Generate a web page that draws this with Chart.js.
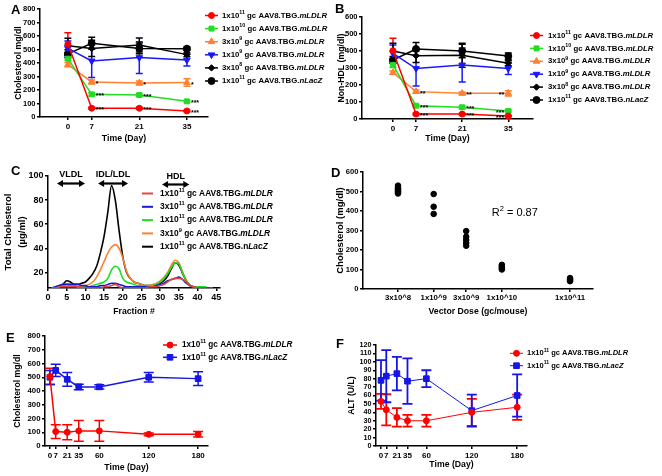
<!DOCTYPE html>
<html><head><meta charset="utf-8">
<script src="https://cdn.jsdelivr.net/npm/chart.js@4.4.1/dist/chart.umd.min.js"></script>
<style>
html,body{margin:0;padding:0;background:#fff;}
#wrap{position:relative;width:662px;height:476px;overflow:hidden;background:#fff;}
#wrap canvas{position:absolute;left:0;top:0;}
</style></head><body><div id="wrap">
<canvas id="cA" width="662" height="476"></canvas>
<canvas id="cB" width="662" height="476"></canvas>
<canvas id="cC" width="662" height="476"></canvas>
<canvas id="cD" width="662" height="476"></canvas>
<canvas id="cE" width="662" height="476"></canvas>
<canvas id="cF" width="662" height="476"></canvas>
</div>
<script>
// ---------------- DATA ----------------
const daysAB = [0, 7, 21, 35];
const tickDaysAB = [0, 7, 21, 35];
const tickCholA = [0, 100, 200, 300, 400, 500, 600, 700, 800];
const tickNonHdlB = [0, 100, 200, 300, 400, 500, 600];
const labelsAB = [
  '1x10^11^ gc AAV8.TBG.*mLDLR*',
  '1x10^10^ gc AAV8.TBG.*mLDLR*',
  '3x10^9^ gc AAV8.TBG.*mLDLR*',
  '1x10^9^ gc AAV8.TBG.*mLDLR*',
  '3x10^8^ gc AAV8.TBG.*mLDLR*',
  '1x10^11^ gc AAV8.TBG.*nLacZ*'
];
// Panel A: total cholesterol (mg/dl)
const cholA_1e11 = [540, 65, 65, 45];   const semA_1e11 = [85, 8, 8, 6];
const cholA_1e10 = [432, 168, 163, 116]; const semA_1e10 = [12, 12, 10, 8];
const cholA_3e9  = [388, 260, 252, 255]; const semA_3e9  = [15, 15, 15, 28];
const cholA_1e9  = [508, 415, 440, 422]; const semA_1e9  = [55, 122, 118, 45];
const cholA_3e8  = [528, 508, 533, 462]; const semA_3e8  = [55, 60, 52, 15];
const cholA_lacz = [468, 546, 508, 506]; const semA_lacz = [30, 45, 40, 12];
const starsA_1e11 = ['', '***', '***', '***'];
const starsA_1e10 = ['', '***', '***', '***'];
const starsA_3e9  = ['', '*', '*', '*'];
// Panel B: non-HDL cholesterol (mg/dl)
const nhdlB_1e11 = [402, 29, 29, 18];    const semB_1e11 = [73, 5, 5, 4];
const nhdlB_1e10 = [318, 78, 69, 47];    const semB_1e10 = [15, 8, 8, 6];
const nhdlB_3e9  = [273, 161, 151, 151]; const semB_3e9  = [10, 10, 8, 15];
const nhdlB_1e9  = [386, 297, 318, 297]; const semB_1e9  = [50, 103, 100, 35];
const nhdlB_3e8  = [400, 372, 375, 328]; const semB_3e8  = [45, 40, 70, 15];
const nhdlB_lacz = [347, 412, 400, 370]; const semB_lacz = [20, 38, 40, 18];
const starsB_1e11 = ['', '***', '***', '***'];
const starsB_1e10 = ['', '***', '***', '***'];
const starsB_3e9  = ['', '**', '**', '**'];
// Panel C: FPLC profile (µg/ml) by fraction
const fractionsC = [1,2,3,4,5,6,7,8,9,10,11,12,13,14,15,16,17,18,19,20,21,22,23,24,25,26,27,28,29,30,31,32,33,34,35,36,37,38,39,40,41,42,43,44];
const tickFractionC = [0, 5, 10, 15, 20, 25, 30, 35, 40, 45];
const tickTotalC = [20, 40, 60, 80, 100];
const labelsC = [
  '1x10^11^ gc AAV8.TBG.*mLDLR*',
  '3x10^11^ gc AAV8.TBG.*mLDLR*',
  '1x10^11^ gc AAV8.TBG.*mLDLR*',
  '3x10^9^ gc AAV8.TBG.*mLDLR*',
  '1x10^11^ gc AAV8.TBG.n*LacZ*'
];
const profC_red    = [7,7,8,8,8,8,8,8,8,7,7,7,7,7,8,8,9,10,8,7,7,7,7,7,7,7,8,8,8,9,10,12,14,15,15,14,12,9,8,7,7,7,6,6];
const profC_blue   = [7,8,9,10,10,10,10,10,9,9,8,8,8,9,9,10,11,11,10,9,8,8,8,8,8,8,8,8,9,10,11,13,14,15,16,14,11,9,8,7,7,7,7,6];
const profC_green  = [7,8,9,9,10,10,9,8,8,8,8,9,10,11,12,15,22,25,23,15,12,11,10,9,9,9,9,9,10,12,15,19,24,28,27,20,13,9,8,8,8,8,7,7];
const profC_orange = [7,7,8,9,10,9,9,8,8,9,10,12,16,22,29,36,41,43,40,32,21,15,12,11,10,9,9,10,11,13,16,20,26,30,28,20,13,9,8,7,7,7,6,6];
const profC_black  = [6,7,8,10,13,12,10,10,11,12,15,19,25,36,50,70,92,80,55,33,20,15,12,11,10,9,9,9,10,11,13,17,23,28,26,19,13,9,8,7,7,7,6,6];
const lipoNames = ['VLDL', 'IDL/LDL', 'HDL'];
const lipoFrom  = [2.4, 13.4, 30.5];
const lipoTo    = [9.9, 21.4, 37.8];
// Panel D: dose response (mg/dl)
const doseD = [3e8,3e8,3e8,3e8,3e8,3e8,3e8,3e8, 1e9,1e9,1e9, 3e9,3e9,3e9,3e9,3e9, 1e10,1e10,1e10,1e10,1e10, 1e11,1e11,1e11,1e11];
const cholD = [490,495,500,505,510,515,522,530, 487,422,385, 297,268,251,236,222, 100,106,112,118,124, 40,45,50,56];
const tickDoseD = [3e8, 1e9, 3e9, 1e10, 1e11];
const tickDoseLabelsD = ['3x10^8', '1x10^9', '3x10^9', '1x10^10', '1x10^11'];
const tickCholD = [0, 100, 200, 300, 400, 500, 600];
const r2TextD = 'R^2^ = 0.87';
// Panels E & F: long term
const daysEF = [0, 7, 21, 35, 60, 120, 180];
const tickDaysEF = [0, 7, 21, 35, 60, 120, 180];
const labelsEF = ['1x10^11^ gc AAV8.TBG.*mLDLR*', '1x10^11^ gc AAV8.TBG.*nLacZ*'];
const cholE_mldlr = [505, 105, 100, 110, 110, 85, 85];   const semE_mldlr = [60, 50, 55, 75, 75, 10, 20];
const cholE_lacz  = [500, 550, 485, 430, 430, 500, 490]; const semE_lacz  = [50, 45, 50, 20, 15, 35, 50];
const tickCholE = [0, 100, 200, 300, 400, 500, 600, 700, 800];
const altF_mldlr = [53, 43, 34, 30, 30, 40, 46];  const semF_mldlr = [9, 18.5, 11, 7, 7, 16, 15];
const altF_lacz  = [78, 83, 86, 77, 80, 42, 60];  const semF_lacz  = [24, 31, 20, 27, 10, 19, 25];
const tickAltF = [0, 10, 20, 30, 40, 50, 60, 70, 80, 90, 100, 110, 120];

// ---------------- STYLE / HELPERS ----------------
const FONT = "'Liberation Sans', Arial, Helvetica, sans-serif";
const RED = '#ff0000', GREEN = '#22dd22', ORANGE = '#ff8030', BLUE = '#1818ff', BLACK = '#000000';

function pts(xs, ys) { return xs.map((x, i) => ({x: x, y: ys[i]})); }

function drawRich(ctx, str, x, y, size, weight, family, color) {
  const parts = str.split(/(\^[^^]*\^|\*[^*]*\*)/).filter(p => p.length);
  let cx = x;
  ctx.fillStyle = color; ctx.textBaseline = 'middle'; ctx.textAlign = 'left';
  for (const p of parts) {
    let t = p, sz = size, dy = 0, st = '';
    if (p[0] === '^') { t = p.slice(1, -1); sz = size * 0.68; dy = -size * 0.38; }
    else if (p[0] === '*') { t = p.slice(1, -1); st = 'italic '; }
    ctx.font = st + weight + ' ' + sz + 'px ' + family;
    ctx.fillText(t, cx, y + dy);
    cx += ctx.measureText(t).width;
  }
}

function marker(ctx, style, radius, rotation, x, y, color) {
  ctx.save();
  ctx.fillStyle = color; ctx.strokeStyle = color; ctx.lineWidth = 1;
  if (Chart.helpers && Chart.helpers.drawPoint) {
    Chart.helpers.drawPoint(ctx, {pointStyle: style, radius: radius, rotation: rotation || 0, borderWidth: 1}, x, y);
  } else {
    ctx.beginPath(); ctx.arc(x, y, radius, 0, Math.PI * 2); ctx.fill();
  }
  ctx.restore();
}

function makeDataset(xs, ys, st, extra) {
  return Object.assign({
    data: pts(xs, ys),
    borderColor: st.c, backgroundColor: st.c,
    pointBackgroundColor: st.c, pointBorderColor: st.c,
    pointStyle: st.ps || false, pointRadius: st.r || 0, pointRotation: st.rot || 0,
    pointBorderWidth: 1, borderWidth: st.lw || 1.5, tension: 0, fill: false
  }, extra || {});
}

function buildChart(id, s) {
  const tickFont = (sz) => ({family: FONT, size: sz, weight: 'bold'});
  const plugin = {
    id: 'extras' + id,
    beforeDatasetsDraw(chart) {
      const ctx = chart.ctx, ys = chart.scales.y;
      chart.data.datasets.forEach((ds, di) => {
        if (!ds.errs) return;
        const meta = chart.getDatasetMeta(di);
        ctx.save();
        ctx.strokeStyle = ds.borderColor; ctx.lineWidth = s.errLw || 1.5;
        ds.errs.forEach((e, k) => {
          if (!e) return;
          const v = ds.data[k].y, px = meta.data[k].x;
          const yt = ys.getPixelForValue(v + e), yb = ys.getPixelForValue(Math.max(v - e, ys.min));
          ctx.beginPath();
          ctx.moveTo(px, yt); ctx.lineTo(px, yb);
          ctx.moveTo(px - s.cap, yt); ctx.lineTo(px + s.cap, yt);
          if (v - e > ys.min) { ctx.moveTo(px - s.cap, yb); ctx.lineTo(px + s.cap, yb); }
          ctx.stroke();
        });
        ctx.restore();
      });
    },
    afterDatasetsDraw(chart) {
      const ctx = chart.ctx;
      chart.data.datasets.forEach((ds, di) => {
        if (!ds.stars) return;
        const meta = chart.getDatasetMeta(di);
        ctx.save();
        ctx.fillStyle = '#000'; ctx.font = 'bold 7px ' + FONT; ctx.textBaseline = 'alphabetic';
        ds.stars.forEach((t, k) => {
          if (!t) return;
          const el = meta.data[k];
          const left = (s.starLeftX !== undefined && ds.data[k].x === s.starLeftX);
          ctx.textAlign = left ? 'right' : 'left';
          ctx.fillText(t, left ? el.x - 4 : el.x + 4, el.y + 4);
        });
        ctx.restore();
      });
    },
    afterDraw(chart) {
      const ctx = chart.ctx;
      ctx.save();
      ctx.fillStyle = '#000'; ctx.font = 'bold 13px ' + FONT; ctx.textBaseline = 'top'; ctx.textAlign = 'left';
      ctx.fillText(s.letter.t, s.letter.x, s.letter.y);
      if (s.legend) {
        const L = s.legend;
        L.items.forEach((it, i) => {
          const y = L.y0 + i * L.dy;
          ctx.strokeStyle = it.c; ctx.lineWidth = L.lw || 1.5;
          ctx.beginPath(); ctx.moveTo(L.x1, y); ctx.lineTo(L.x2, y); ctx.stroke();
          if (it.ps) marker(ctx, it.ps, it.r, it.rot, (L.x1 + L.x2) / 2, y, it.c);
          drawRich(ctx, it.label, L.tx, y, L.size, 'bold', FONT, '#000');
        });
      }
      if (s.arrows) {
        const xs = chart.scales.x, top = chart.chartArea.top;
        s.arrows.names.forEach((n, i) => {
          const x1 = xs.getPixelForValue(s.arrows.from[i]), x2 = xs.getPixelForValue(s.arrows.to[i]);
          const ya = top + s.arrows.dy[i];
          ctx.strokeStyle = '#000'; ctx.fillStyle = '#000'; ctx.lineWidth = 2.2;
          ctx.beginPath(); ctx.moveTo(x1 + 4, ya); ctx.lineTo(x2 - 4, ya); ctx.stroke();
          ctx.beginPath(); ctx.moveTo(x1, ya); ctx.lineTo(x1 + 6, ya - 3.6); ctx.lineTo(x1 + 6, ya + 3.6); ctx.closePath(); ctx.fill();
          ctx.beginPath(); ctx.moveTo(x2, ya); ctx.lineTo(x2 - 6, ya - 3.6); ctx.lineTo(x2 - 6, ya + 3.6); ctx.closePath(); ctx.fill();
          ctx.font = 'bold 9px ' + FONT; ctx.textAlign = 'center'; ctx.textBaseline = 'middle';
          ctx.fillText(n, (x1 + x2) / 2, top + s.arrows.ty[i]);
        });
      }
      if (s.note) {
        const ca = chart.chartArea;
        drawRich(ctx, s.note.text, ca.left + s.note.fx * (ca.right - ca.left), ca.top + s.note.fy * (ca.bottom - ca.top), s.note.size, 'normal', FONT, '#000');
      }
      ctx.restore();
    }
  };
  const axisCommon = {
    grid: {drawOnChartArea: false, drawTicks: true, tickLength: 3, color: '#000', lineWidth: 1.5},
    border: {display: true, color: '#000', width: 1.5}
  };
  const cfg = {
    type: 'line',
    data: {datasets: s.datasets},
    options: {
      responsive: false, animation: false, devicePixelRatio: 1,
      layout: {padding: {left: s.L - s.Wy, top: s.T, right: 662 - s.R, bottom: 476 - s.B - s.Hx}},
      plugins: {legend: {display: false}, tooltip: {enabled: false}},
      scales: {
        x: Object.assign({}, axisCommon, {
          type: s.x.type || 'linear', min: s.x.min, max: s.x.max,
          afterBuildTicks: sc => { sc.ticks = s.x.ticks.map(v => ({value: v})); },
          afterFit: sc => { sc.height = s.Hx; },
          ticks: {font: tickFont(s.x.fs), color: '#000', padding: 1.5, autoSkip: false, maxRotation: 0,
                  callback: (v, i) => s.x.labels ? s.x.labels[i] : String(v)},
          title: {display: true, text: s.x.title, color: '#000', font: {family: FONT, size: s.x.tfs || 8.7, weight: 'bold'}, padding: 0}
        }),
        y: Object.assign({}, axisCommon, {
          type: 'linear', min: s.y.min, max: s.y.max,
          afterBuildTicks: sc => { sc.ticks = s.y.ticks.map(v => ({value: v})); },
          afterFit: sc => { sc.width = s.Wy; },
          ticks: {font: tickFont(s.y.fs), color: '#000', padding: 1.5, autoSkip: false, callback: v => String(v)},
          title: {display: true, text: s.y.title, color: '#000', font: {family: FONT, size: s.y.tfs || 8.7, weight: 'bold', lineHeight: s.y.tlh || 1.2}, padding: 0}
        })
      }
    },
    plugins: [plugin]
  };
  return new Chart(document.getElementById(id), cfg);
}

// ---------------- PANEL A ----------------
const stAB = [
  {c: RED, ps: 'circle', r: 3},
  {c: GREEN, ps: 'rect', r: 3.5},
  {c: ORANGE, ps: 'triangle', r: 3.8},
  {c: BLUE, ps: 'triangle', r: 3.8, rot: 180},
  {c: BLACK, ps: 'rectRot', r: 3.2},
  {c: BLACK, ps: 'circle', r: 3.5}
];
buildChart('cA', {
  L: 40, T: 9, R: 208, B: 117, Wy: 26.4, Hx: 26.4, cap: 3.5,
  x: {min: -8.2, max: 41.2, ticks: tickDaysAB, fs: 8, title: 'Time (Day)'},
  y: {min: 0, max: 800, ticks: tickCholA, fs: 7.5, title: 'Cholesterol mg/dl'},
  letter: {t: 'A', x: 11, y: 4},
  legend: {x1: 205, x2: 218, tx: 222, y0: 15.5, dy: 13.1, size: 7.8,
           items: labelsAB.map((l, i) => Object.assign({label: l}, stAB[i]))},
  datasets: [
    makeDataset(daysAB, cholA_1e11, stAB[0], {errs: semA_1e11, stars: starsA_1e11}),
    makeDataset(daysAB, cholA_1e10, stAB[1], {errs: semA_1e10, stars: starsA_1e10}),
    makeDataset(daysAB, cholA_3e9, stAB[2], {errs: semA_3e9, stars: starsA_3e9}),
    makeDataset(daysAB, cholA_1e9, stAB[3], {errs: semA_1e9}),
    makeDataset(daysAB, cholA_3e8, stAB[4], {errs: semA_3e8}),
    makeDataset(daysAB, cholA_lacz, stAB[5], {errs: semA_lacz})
  ]
});

// ---------------- PANEL B ----------------
buildChart('cB', {
  L: 362, T: 17, R: 533, B: 119, Wy: 26, Hx: 24.4, cap: 3.5, starLeftX: 35,
  x: {min: -9.4, max: 42.5, ticks: tickDaysAB, fs: 8, title: 'Time (Day)'},
  y: {min: 0, max: 600, ticks: tickNonHdlB, fs: 7.5, title: 'Non-HDL (mg/dl)'},
  letter: {t: 'B', x: 335, y: 3},
  legend: {x1: 530, x2: 543, tx: 548, y0: 35.5, dy: 12.9, size: 7.8,
           items: labelsAB.map((l, i) => Object.assign({label: l}, stAB[i]))},
  datasets: [
    makeDataset(daysAB, nhdlB_1e11, stAB[0], {errs: semB_1e11, stars: starsB_1e11}),
    makeDataset(daysAB, nhdlB_1e10, stAB[1], {errs: semB_1e10, stars: starsB_1e10}),
    makeDataset(daysAB, nhdlB_3e9, stAB[2], {errs: semB_3e9, stars: starsB_3e9}),
    makeDataset(daysAB, nhdlB_1e9, stAB[3], {errs: semB_1e9}),
    makeDataset(daysAB, nhdlB_3e8, stAB[4], {errs: semB_3e8}),
    makeDataset(daysAB, nhdlB_lacz, stAB[5], {errs: semB_lacz})
  ]
});

// ---------------- PANEL C ----------------
const stC = [
  {c: '#e04848', lw: 1.6}, {c: '#1a1ad0', lw: 1.6}, {c: GREEN, lw: 1.6}, {c: ORANGE, lw: 1.6}, {c: BLACK, lw: 1.6}
];
const smooth = {cubicInterpolationMode: 'monotone', pointRadius: 0};
buildChart('cC', {
  L: 48, T: 176, R: 220, B: 288, Wy: 47, Hx: 28.4, cap: 0,
  x: {min: 0, max: 46, ticks: tickFractionC, fs: 9, title: 'Fraction #'},
  y: {min: 7, max: 100, ticks: tickTotalC, fs: 9, title: ['Total Cholesterol', '(\u00b5g/ml)'], tfs: 9.5, tlh: 1.5},
  letter: {t: 'C', x: 11, y: 165},
  legend: {x1: 142, x2: 153, tx: 160, y0: 193.5, dy: 13.3, size: 8.4, lw: 2,
           items: labelsC.map((l, i) => ({label: l, c: stC[i].c}))},
  arrows: {names: lipoNames, from: lipoFrom, to: lipoTo, dy: [7.5, 7.5, 8.5], ty: [-1, -1, 1]},
  datasets: [
    makeDataset(fractionsC, profC_red, stC[0], smooth),
    makeDataset(fractionsC, profC_blue, stC[1], smooth),
    makeDataset(fractionsC, profC_green, stC[2], smooth),
    makeDataset(fractionsC, profC_orange, stC[3], smooth),
    makeDataset(fractionsC, profC_black, stC[4], smooth)
  ]
});

// ---------------- PANEL D ----------------
buildChart('cD', {
  L: 363, T: 172, R: 593, B: 289, Wy: 28, Hx: 27.4, cap: 0,
  x: {type: 'logarithmic', min: 9.2e7, max: 2.17e11, ticks: tickDoseD, labels: tickDoseLabelsD, fs: 7.8, title: 'Vector Dose (gc/mouse)'},
  y: {min: 0, max: 600, ticks: tickCholD, fs: 7.6, title: 'Cholesterol (mg/dl)', tfs: 9.5},
  letter: {t: 'D', x: 331, y: 167},
  note: {text: r2TextD, fx: 0.56, fy: 0.35, size: 11},
  datasets: [
    makeDataset(doseD, cholD, {c: BLACK, ps: 'circle', r: 2.8}, {showLine: false})
  ]
});

// ---------------- PANEL E ----------------
const stEF = [
  {c: RED, ps: 'circle', r: 3},
  {c: '#1515e8', ps: 'rect', r: 4}
];
buildChart('cE', {
  L: 45, T: 336, R: 208, B: 446, Wy: 33, Hx: 26.4, cap: 5,
  x: {min: -6, max: 192, ticks: tickDaysEF, fs: 8, title: 'Time (Day)'},
  y: {min: 0, max: 800, ticks: tickCholE, fs: 7.8, title: 'Cholesterol mg/dl'},
  letter: {t: 'E', x: 6, y: 332},
  legend: {x1: 163, x2: 177, tx: 182, y0: 345, dy: 12.3, size: 8.2,
           items: labelsEF.map((l, i) => Object.assign({label: l}, stEF[i]))},
  datasets: [
    makeDataset(daysEF, cholE_mldlr, stEF[0], {errs: semE_mldlr}),
    makeDataset(daysEF, cholE_lacz, stEF[1], {errs: semE_lacz})
  ]
});

// ---------------- PANEL F ----------------
const stF = [
  {c: RED, ps: 'circle', r: 3, lw: 1},
  {c: '#1515e8', ps: 'rect', r: 4, lw: 1}
];
buildChart('cF', {
  L: 376, T: 345, R: 527, B: 446, Wy: 30, Hx: 23.4, cap: 5, errLw: 1.8,
  x: {min: -6.6, max: 193, ticks: tickDaysEF, fs: 8, title: 'Time (Day)'},
  y: {min: 0, max: 120, ticks: tickAltF, fs: 7.2, title: 'ALT (U/L)'},
  letter: {t: 'F', x: 336, y: 338},
  legend: {x1: 510, x2: 523, tx: 527, y0: 353.3, dy: 12.4, size: 7.5, lw: 1,
           items: labelsEF.map((l, i) => Object.assign({label: l}, stF[i]))},
  datasets: [
    makeDataset(daysEF, altF_mldlr, stF[0], {errs: semF_mldlr}),
    makeDataset(daysEF, altF_lacz, stF[1], {errs: semF_lacz})
  ]
});
</script></body></html>
